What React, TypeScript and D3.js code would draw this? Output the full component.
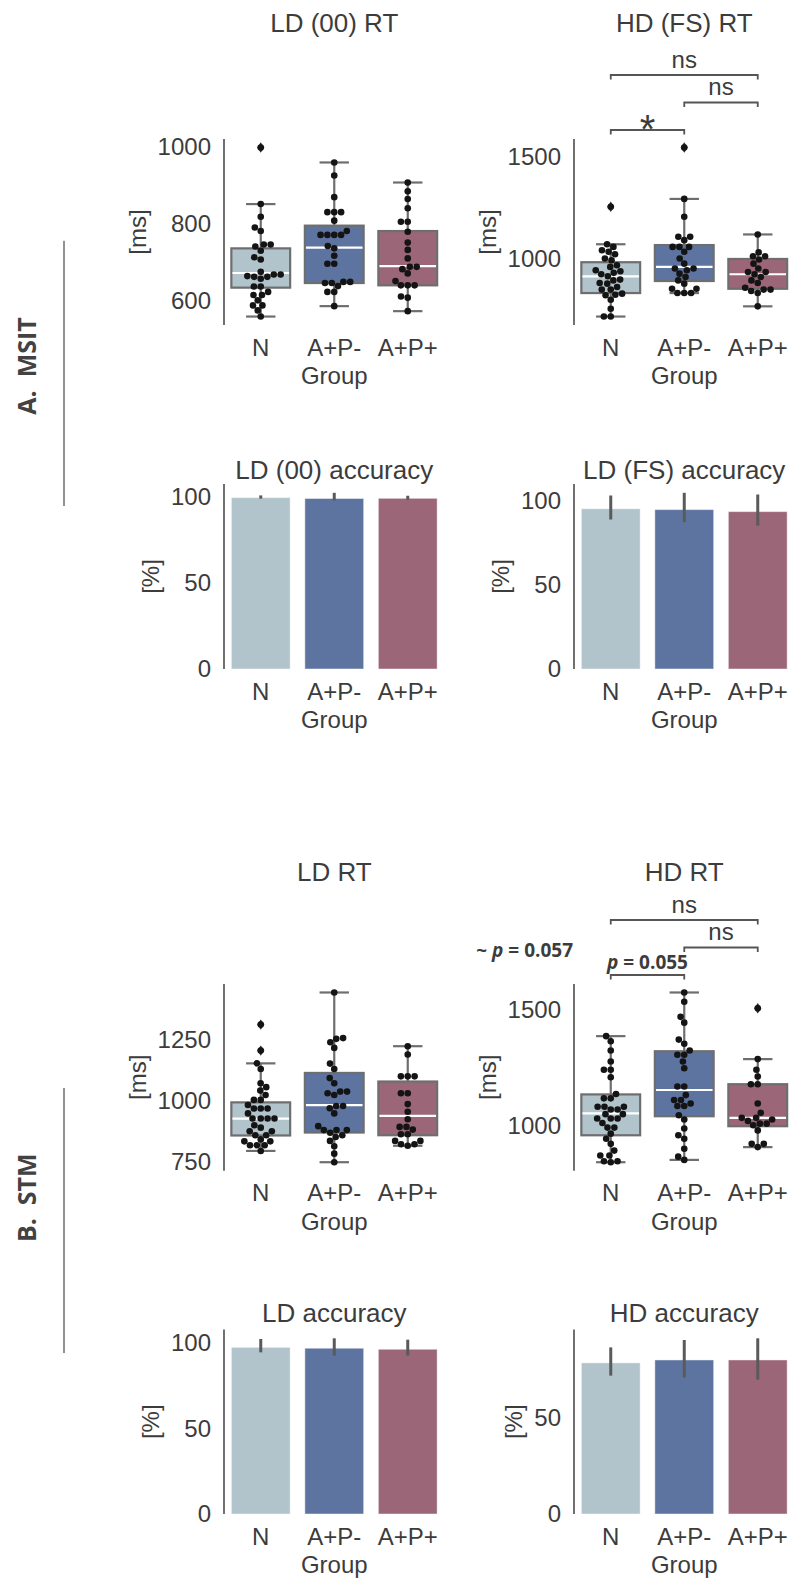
import React from "react";
import * as d3 from "d3";

// ---------- categories & styling ----------
const groups = ["N", "A+P-", "A+P+"];
const groupColors = ["#b1c4cc", "#5d74a1", "#9b6677"];

// ---------- MSIT: reaction times per participant (ms) ----------
const msitLdRtN = [997, 850, 817, 789, 780, 745, 745, 740, 729, 712, 706, 674, 667, 667, 661, 661, 663, 656, 636, 636, 622, 614, 614, 600, 587, 587, 574, 558];
const msitLdRtApm = [958, 924, 868, 829, 829, 829, 807, 780, 770, 770, 770, 770, 741, 735, 716, 695, 695, 648, 648, 645, 645, 637, 622, 622, 585];
const msitLdRtApp = [906, 883, 863, 839, 804, 804, 778, 750, 731, 709, 687, 687, 681, 670, 650, 639, 639, 639, 610, 607, 572];
const msitLdRtBoxes = [
  { lo: 558, q1: 633, med: 671, q3: 735, hi: 850 },
  { lo: 585, q1: 645, med: 737, q3: 794, hi: 958 },
  { lo: 572, q1: 639, med: 689, q3: 780, hi: 906 },
];
const msitLdRtTicks = [600, 800, 1000];

const msitHdRtN = [1254, 1070, 1057, 1041, 1033, 1021, 1000, 992, 967, 959, 943, 938, 930, 923, 913, 897, 893, 880, 877, 861, 848, 848, 828, 823, 820, 798, 754, 716, 716];
const msitHdRtApm = [1544, 1292, 1205, 1107, 1107, 1090, 1057, 1057, 1057, 1033, 1000, 975, 951, 951, 943, 926, 910, 893, 877, 852, 852, 831, 831, 831];
const msitHdRtApp = [1118, 1030, 1011, 1011, 995, 975, 951, 934, 934, 923, 910, 893, 880, 857, 848, 848, 841, 831, 766];
const msitHdRtBoxes = [
  { lo: 716, q1: 831, med: 913, q3: 982, hi: 1070 },
  { lo: 831, q1: 890, med: 959, q3: 1066, hi: 1292 },
  { lo: 766, q1: 852, med: 923, q3: 998, hi: 1118 },
];
const msitHdRtTicks = [1000, 1500];

// ---------- MSIT: accuracy (%), mean with error range ----------
const msitLdAccMean = [99.5, 99.0, 99.1];
const msitLdAccLo = [98.9, 97.9, 98.3];
const msitLdAccHi = [100.8, 102.3, 100.6];

const msitFsAccMean = [95.4, 94.9, 93.7];
const msitFsAccLo = [89.0, 87.4, 85.4];
const msitFsAccHi = [103.3, 104.9, 103.9];

// ---------- STM: reaction times per participant (ms) ----------
const stmLdRtN = [1310, 1204, 1152, 1129, 1071, 1055, 1041, 1023, 1003, 1003, 982, 968, 968, 968, 948, 927, 927, 927, 927, 900, 890, 875, 875, 859, 859, 842, 834, 834, 818, 818, 818, 795];
const stmLdRtApm = [1441, 1255, 1252, 1238, 1215, 1151, 1129, 1092, 1071, 1037, 1037, 1030, 1023, 978, 978, 969, 948, 896, 880, 880, 880, 869, 859, 852, 836, 814, 784, 749];
const stmLdRtApp = [1222, 1188, 1099, 1099, 1099, 1030, 1030, 986, 955, 924, 893, 893, 882, 863, 863, 836, 836, 822, 822, 816];
const stmLdRtBoxes = [
  { lo: 795, q1: 858, med: 927, q3: 993, hi: 1152 },
  { lo: 749, q1: 870, med: 982, q3: 1113, hi: 1441 },
  { lo: 816, q1: 859, med: 938, q3: 1078, hi: 1222 },
];
const stmLdRtTicks = [750, 1000, 1250];

const stmHdRtN = [1384, 1362, 1322, 1275, 1239, 1239, 1207, 1135, 1116, 1116, 1080, 1080, 1080, 1068, 1068, 1048, 1048, 1029, 1029, 1029, 1010, 990, 990, 964, 942, 920, 891, 870, 870, 845, 845, 841];
const stmHdRtApm = [1572, 1532, 1467, 1442, 1369, 1351, 1322, 1304, 1304, 1275, 1246, 1167, 1167, 1130, 1109, 1109, 1094, 1083, 1083, 1043, 1025, 986, 957, 942, 899, 865, 851];
const stmHdRtApp = [1504, 1285, 1239, 1210, 1177, 1177, 1094, 1054, 1032, 1032, 1025, 1019, 1007, 1007, 1000, 978, 920, 920, 906];
const stmHdRtBoxes = [
  { lo: 841, q1: 957, med: 1051, q3: 1133, hi: 1384 },
  { lo: 851, q1: 1039, med: 1152, q3: 1319, hi: 1572 },
  { lo: 906, q1: 996, med: 1032, q3: 1177, hi: 1285 },
];
const stmHdRtTicks = [1000, 1500];

// ---------- STM: accuracy (%) ----------
const stmLdAccMean = [97.1, 96.6, 96.0];
const stmLdAccLo = [94.2, 92.3, 92.3];
const stmLdAccHi = [102.0, 102.4, 101.6];

const stmHdAccMean = [78.1, 79.6, 79.6];
const stmHdAccLo = [71.5, 70.6, 69.4];
const stmHdAccHi = [86.1, 89.9, 90.8];

const accTicks = [0, 50, 100];

// ---------- pairwise comparisons (bottom bracket first) ----------
const msitHdBrackets = [
  { a: "N", b: "A+P-", label: "*", kind: "star" },
  { a: "A+P-", b: "A+P+", label: "ns", kind: "ns" },
  { a: "N", b: "A+P+", label: "ns", kind: "ns" },
];
const stmHdBrackets = [
  { a: "N", b: "A+P-", label: "0.055", kind: "p" },
  { a: "A+P-", b: "A+P+", label: "ns", kind: "ns" },
  { a: "N", b: "A+P+", label: "ns", kind: "ns" },
];

type Box = { lo: number; q1: number; med: number; q3: number; hi: number };
type Bracket = { a: string; b: string; label: string; kind: string };

const FONT = "'Liberation Sans', Arial, Helvetica, sans-serif";
const BOLD_FONT = "'Open Sans', 'Noto Sans', sans-serif";
const TEXT = "#3c3c3c";
const AXIS = "#4d4d4d";
const BOX_EDGE = "#6e6e6e";
const FS = 24;
const TITLE_FS = 26;
const BAND_SPAN = 220.5;
const DIGIT_W = FS * 0.556;

// swarm layout: lowest values first, each point takes the free slot nearest the centre line
function beeswarm(values: number[], y: (v: number) => number, r: number) {
  const d = 2 * r * 1.04;
  const pts = values.map((v) => ({ v, y: y(v) })).sort((p, q) => q.y - p.y);
  const placed: { v: number; x: number; y: number }[] = [];
  for (const p of pts) {
    const nb = placed.filter((q) => Math.abs(q.y - p.y) < d);
    const cands = [0];
    for (const q of nb) {
      const dx = Math.sqrt(d * d - (q.y - p.y) ** 2);
      cands.push(q.x - dx, q.x + dx);
    }
    cands.sort((m, n) => Math.abs(m) - Math.abs(n));
    let chosen = 0;
    for (const c of cands) {
      if (nb.every((q) => (q.x - c) ** 2 + (q.y - p.y) ** 2 >= d * d - 1e-6)) {
        chosen = c;
        break;
      }
    }
    placed.push({ v: p.v, x: chosen, y: p.y });
  }
  return placed;
}

function YAxis({ x0, top, bottom, ticks, y, label }: { x0: number; top: number; bottom: number; ticks: number[]; y: d3.ScaleLinear<number, number>; label: string }) {
  const maxW = d3.max(ticks, (t) => String(t).length * DIGIT_W) || 0;
  const labelCx = x0 - 13 - maxW - 18;
  const cy = (top + bottom) / 2;
  return (
    <g>
      <line x1={x0} x2={x0} y1={top} y2={bottom} stroke={AXIS} strokeWidth={1.6} />
      {ticks.map((t) => (
        <text key={t} x={x0 - 13} y={y(t)} dy="0.35em" textAnchor="end" fontSize={FS} fill={TEXT}>
          {t}
        </text>
      ))}
      <text transform={`translate(${labelCx + 6},${cy}) rotate(-90)`} textAnchor="middle" fontSize={FS} fill={TEXT}>
        {label}
      </text>
    </g>
  );
}

function XLabels({ x, bottom }: { x: d3.ScaleBand<string>; bottom: number }) {
  const mid = (x.range()[0] + x.range()[1]) / 2;
  return (
    <g>
      {groups.map((g) => (
        <text key={g} x={(x(g) || 0) + x.bandwidth() / 2} y={bottom + 30.5} textAnchor="middle" fontSize={FS} fill={TEXT}>
          {g}
        </text>
      ))}
      <text x={mid} y={bottom + 59} textAnchor="middle" fontSize={FS} fill={TEXT}>
        Group
      </text>
    </g>
  );
}

function BracketMark({ br, i, x, top }: { br: Bracket; i: number; x: d3.ScaleBand<string>; top: number }) {
  const xa = (x(br.a) || 0) + x.bandwidth() / 2;
  const xb = (x(br.b) || 0) + x.bandwidth() / 2;
  const yl = top - 9 - 27.5 * i;
  const cx = (xa + xb) / 2;
  let lab;
  if (br.kind === "star") {
    lab = (
      <text x={cx} y={yl + 13} textAnchor="middle" fontSize={40} fill={TEXT}>
        {br.label}
      </text>
    );
  } else if (br.kind === "p") {
    lab = (
      <text x={cx} y={yl - 6.5} textAnchor="middle" fontSize={19} fontWeight={700} fontFamily={BOLD_FONT} fill={TEXT}>
        <tspan fontStyle="italic">p</tspan> = {br.label}
      </text>
    );
  } else {
    lab = (
      <text x={cx} y={yl - 7.3} textAnchor="middle" fontSize={FS} fill={TEXT}>
        {br.label}
      </text>
    );
  }
  return (
    <g>
      <path d={`M${xa},${yl + 4.5}V${yl}H${xb}V${yl + 4.5}`} fill="none" stroke="#555" strokeWidth={1.8} />
      {lab}
    </g>
  );
}

function BoxPanel(props: {
  x0: number; top: number; bottom: number; title: string; titleY: number;
  ticks: number[]; samples: number[][]; boxes: Box[]; brackets?: Bracket[];
}) {
  const { x0, top, bottom, title, titleY, ticks, samples, boxes, brackets } = props;
  const x = d3.scaleBand<string>().domain(groups).range([x0, x0 + BAND_SPAN]).paddingInner(0).paddingOuter(0);
  const [mn, mx] = d3.extent(samples.flat()) as [number, number];
  const pad = (mx - mn) * 0.05;
  const y = d3.scaleLinear().domain([mn - pad, mx + pad]).range([bottom, top]);
  const bw = x.bandwidth();
  const boxW = bw * 0.8;
  const capW = boxW / 2;
  const r = 3.3;
  return (
    <g>
      <text x={x0 + BAND_SPAN / 2} y={titleY} textAnchor="middle" fontSize={TITLE_FS} fill={TEXT}>
        {title}
      </text>
      <YAxis x0={x0} top={top} bottom={bottom} ticks={ticks} y={y} label="[ms]" />
      {groups.map((g, gi) => {
        const cx = (x(g) || 0) + bw / 2;
        const b = boxes[gi];
        const swarm = beeswarm(samples[gi], y, r);
        return (
          <g key={g}>
            <line x1={cx} x2={cx} y1={y(b.q3)} y2={y(b.hi)} stroke={BOX_EDGE} strokeWidth={2.2} />
            <line x1={cx} x2={cx} y1={y(b.q1)} y2={y(b.lo)} stroke={BOX_EDGE} strokeWidth={2.2} />
            <line x1={cx - capW / 2} x2={cx + capW / 2} y1={y(b.hi)} y2={y(b.hi)} stroke={BOX_EDGE} strokeWidth={2.2} />
            <line x1={cx - capW / 2} x2={cx + capW / 2} y1={y(b.lo)} y2={y(b.lo)} stroke={BOX_EDGE} strokeWidth={2.2} />
            <rect x={cx - boxW / 2} y={y(b.q3)} width={boxW} height={y(b.q1) - y(b.q3)} fill={groupColors[gi]} stroke={BOX_EDGE} strokeWidth={2.2} />
            <line x1={cx - boxW / 2 + 1.1} x2={cx + boxW / 2 - 1.1} y1={y(b.med)} y2={y(b.med)} stroke="#fff" strokeWidth={2.2} />
            {samples[gi]
              .filter((v) => v > b.hi || v < b.lo)
              .map((v, k) => (
                <path key={"o" + k} d="M0,-5.2L3.6,0L0,5.2L-3.6,0Z" transform={`translate(${cx},${y(v)})`} fill="#2b2b2b" />
              ))}
            {swarm.map((p, k) => (
              <circle key={k} cx={cx + p.x} cy={p.y} r={r} fill="#141414" />
            ))}
          </g>
        );
      })}
      {brackets && brackets.map((br, i) => <BracketMark key={i} br={br} i={i} x={x} top={top} />)}
      <XLabels x={x} bottom={bottom} />
    </g>
  );
}

function BarPanel(props: {
  x0: number; top: number; bottom: number; title: string; titleY: number;
  means: number[]; lo: number[]; hi: number[];
}) {
  const { x0, top, bottom, title, titleY, means, lo, hi } = props;
  const x = d3.scaleBand<string>().domain(groups).range([x0, x0 + BAND_SPAN]).paddingInner(0).paddingOuter(0);
  const yMax = (d3.max(hi) || 100) * 1.05;
  const y = d3.scaleLinear().domain([0, yMax]).range([bottom, top]);
  const bw = x.bandwidth();
  const barW = bw * 0.8;
  const ticks = accTicks.filter((t) => t <= yMax);
  return (
    <g>
      <text x={x0 + BAND_SPAN / 2} y={titleY} textAnchor="middle" fontSize={TITLE_FS} fill={TEXT}>
        {title}
      </text>
      <YAxis x0={x0} top={top} bottom={bottom} ticks={ticks} y={y} label="[%]" />
      {groups.map((g, gi) => {
        const cx = (x(g) || 0) + bw / 2;
        return (
          <g key={g}>
            <rect x={cx - barW / 2} y={y(means[gi])} width={barW} height={y(0) - y(means[gi])} fill={groupColors[gi]} stroke="#ffffff" strokeOpacity={0.45} strokeWidth={1} />
            <line x1={cx} x2={cx} y1={y(lo[gi])} y2={y(hi[gi])} stroke="#5a5a5a" strokeWidth={3} />
          </g>
        );
      })}
      <XLabels x={x} bottom={bottom} />
    </g>
  );
}

function SectionLabel({ text, cx, cy, y1, y2 }: { text: string; cx: number; cy: number; y1: number; y2: number }) {
  return (
    <g>
      <text transform={`translate(${cx + 9},${cy}) rotate(-90)`} textAnchor="middle" fontFamily={BOLD_FONT} fontWeight={700} fontSize={25} fill="#424242" style={{ whiteSpace: "pre" }}>
        {text}
      </text>
      <line x1={64} x2={64} y1={y1} y2={y2} stroke="#777" strokeWidth={1.6} />
    </g>
  );
}

const leftX = 224;
const rightX = 574;

export default function App() {
  return (
    <svg width={792} height={1582} fontFamily={FONT} style={{ position: "absolute", left: 0, top: 0, background: "#fff" }}>
      <rect width={792} height={1582} fill="#fff" />
      <SectionLabel text={"A.  MSIT"} cx={27} cy={366} y1={240.7} y2={506} />
      <SectionLabel text={"B.  STM"} cx={27} cy={1197.7} y1={1088} y2={1353} />

      <BoxPanel x0={leftX} top={139} bottom={325} title="LD (00) RT" titleY={32} ticks={msitLdRtTicks} samples={[msitLdRtN, msitLdRtApm, msitLdRtApp]} boxes={msitLdRtBoxes} />
      <BoxPanel x0={rightX} top={139} bottom={325} title="HD (FS) RT" titleY={32} ticks={msitHdRtTicks} samples={[msitHdRtN, msitHdRtApm, msitHdRtApp]} boxes={msitHdRtBoxes} brackets={msitHdBrackets} />

      <BarPanel x0={leftX} top={484} bottom={669} title="LD (00) accuracy" titleY={479} means={msitLdAccMean} lo={msitLdAccLo} hi={msitLdAccHi} />
      <BarPanel x0={rightX} top={484} bottom={669} title="LD (FS) accuracy" titleY={479} means={msitFsAccMean} lo={msitFsAccLo} hi={msitFsAccHi} />

      <BoxPanel x0={leftX} top={984} bottom={1170.7} title="LD RT" titleY={880.6} ticks={stmLdRtTicks} samples={[stmLdRtN, stmLdRtApm, stmLdRtApp]} boxes={stmLdRtBoxes} />
      <BoxPanel x0={rightX} top={984} bottom={1170.7} title="HD RT" titleY={880.6} ticks={stmHdRtTicks} samples={[stmHdRtN, stmHdRtApm, stmHdRtApp]} boxes={stmHdRtBoxes} brackets={stmHdBrackets} />
      <text x={573} y={957} textAnchor="end" fontFamily={BOLD_FONT} fontWeight={700} fontSize={19} fill={TEXT}>
        ~ <tspan fontStyle="italic">p</tspan> = 0.057
      </text>

      <BarPanel x0={leftX} top={1329.5} bottom={1514} title="LD accuracy" titleY={1322.3} means={stmLdAccMean} lo={stmLdAccLo} hi={stmLdAccHi} />
      <BarPanel x0={rightX} top={1329.5} bottom={1514} title="HD accuracy" titleY={1322.3} means={stmHdAccMean} lo={stmHdAccLo} hi={stmHdAccHi} />
    </svg>
  );
}
